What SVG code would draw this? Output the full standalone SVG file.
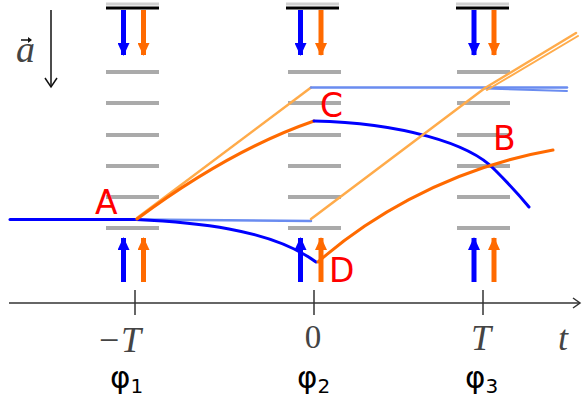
<svg xmlns="http://www.w3.org/2000/svg" width="582" height="403" viewBox="0 0 582 403">
<style>
.bar{stroke:#aaaaaa;stroke-width:4}
.top{stroke:#000;stroke-width:3}
.shade{stroke:#d0d0d0;stroke-width:3}
.blue{stroke:#0000ff;stroke-width:5}
.orng{stroke:#ff6a00;stroke-width:5}
.lbl{font-family:"DejaVu Sans",sans-serif;font-size:33px;fill:#ff0000}
.math{font-family:"Liberation Serif",serif;font-style:italic;font-size:36px;fill:#444}
.phi{font-family:"DejaVu Sans",sans-serif;font-size:31px;fill:#000}
</style>
<defs>
<marker id="hb" viewBox="0 0 13 12" refX="12" refY="6" markerWidth="13" markerHeight="12" markerUnits="userSpaceOnUse" orient="auto"><path d="M0,0 L13,6 L0,12 Z" fill="#0000ff"/></marker>
<marker id="ho" viewBox="0 0 13 12" refX="12" refY="6" markerWidth="13" markerHeight="12" markerUnits="userSpaceOnUse" orient="auto"><path d="M0,0 L13,6 L0,12 Z" fill="#ff6a00"/></marker>
</defs>
<rect width="582" height="403" fill="#fff"/>

<g id="grating1">
<line class="shade" x1="106" y1="4" x2="159" y2="4"/>
<line class="top" x1="106" y1="8" x2="159" y2="8"/>
<line class="bar" x1="106" y1="72" x2="159" y2="72"/>
<line class="bar" x1="106" y1="103" x2="159" y2="103"/>
<line class="bar" x1="106" y1="135" x2="159" y2="135"/>
<line class="bar" x1="106" y1="166" x2="159" y2="166"/>
<line class="bar" x1="106" y1="197" x2="159" y2="197"/>
<line class="bar" x1="106" y1="228" x2="159" y2="228"/>
</g>
<g id="grating2">
<line class="shade" x1="286" y1="4" x2="339" y2="4"/>
<line class="top" x1="286" y1="8" x2="339" y2="8"/>
<line class="bar" x1="288" y1="72" x2="341" y2="72"/>
<line class="bar" x1="288" y1="103" x2="341" y2="103"/>
<line class="bar" x1="288" y1="135" x2="341" y2="135"/>
<line class="bar" x1="288" y1="166" x2="341" y2="166"/>
<line class="bar" x1="288" y1="197" x2="341" y2="197"/>
<line class="bar" x1="288" y1="228" x2="341" y2="228"/>
</g>
<g id="grating3">
<line class="shade" x1="456" y1="4" x2="509" y2="4"/>
<line class="top" x1="456" y1="8" x2="509" y2="8"/>
<line class="bar" x1="457" y1="72" x2="510" y2="72"/>
<line class="bar" x1="457" y1="103" x2="510" y2="103"/>
<line class="bar" x1="457" y1="135" x2="510" y2="135"/>
<line class="bar" x1="457" y1="166" x2="510" y2="166"/>
<line class="bar" x1="457" y1="197" x2="510" y2="197"/>
<line class="bar" x1="457" y1="228" x2="510" y2="228"/>
</g>

<g id="pulses">
<line class="blue" x1="123.5" y1="10" x2="123.5" y2="55" marker-end="url(#hb)"/>
<line class="orng" x1="143.5" y1="10" x2="143.5" y2="55" marker-end="url(#ho)"/>
<line class="blue" x1="300.5" y1="10" x2="300.5" y2="55" marker-end="url(#hb)"/>
<line class="orng" x1="321" y1="10" x2="321" y2="55" marker-end="url(#ho)"/>
<line class="blue" x1="474" y1="10" x2="474" y2="55" marker-end="url(#hb)"/>
<line class="orng" x1="494" y1="10" x2="494" y2="55" marker-end="url(#ho)"/>
<line class="blue" x1="123.5" y1="282" x2="123.5" y2="238" marker-end="url(#hb)"/>
<line class="orng" x1="143.5" y1="282" x2="143.5" y2="238" marker-end="url(#ho)"/>
<line class="blue" x1="300.5" y1="282" x2="300.5" y2="238" marker-end="url(#hb)"/>
<line class="orng" x1="321" y1="282" x2="321" y2="238" marker-end="url(#ho)"/>
<line class="blue" x1="474" y1="282" x2="474" y2="238" marker-end="url(#hb)"/>
<line class="orng" x1="494" y1="282" x2="494" y2="238" marker-end="url(#ho)"/>
</g>

<g id="connectors" fill="none" stroke-linecap="round">
<line x1="10" y1="219.5" x2="136" y2="219.5" stroke="#0000ff" stroke-width="3"/>
<line x1="136" y1="219.5" x2="311" y2="221" stroke="#6a8cf0" stroke-width="2.5"/>
<path d="M136,219.5 C190,222 270,228 316,262" stroke="#0000ff" stroke-width="3"/>
<line x1="137" y1="218" x2="311" y2="87.5" stroke="#ffab4a" stroke-width="2.5"/>
<path d="M137,219 Q230,150 314,121" stroke="#ff6a00" stroke-width="3"/>
<line x1="311" y1="87.5" x2="567" y2="87.5" stroke="#6a8cf0" stroke-width="2.5"/>
<line x1="485" y1="88.5" x2="567" y2="91" stroke="#6a8cf0" stroke-width="2"/>
<path d="M314,121 C400,123 470,143 495,170 Q515,190 529,207" stroke="#0000ff" stroke-width="3"/>
<line x1="311" y1="219" x2="485" y2="88" stroke="#ffab4a" stroke-width="2.5"/>
<line x1="485" y1="88" x2="576" y2="33" stroke="#ffab4a" stroke-width="2.5"/>
<line x1="487" y1="90" x2="578" y2="36" stroke="#ffab4a" stroke-width="2"/>
<path d="M318,262 C360,225 440,170 553,150" stroke="#ff6a00" stroke-width="3"/>
</g>

<g id="labels">
<text class="lbl" x="95" y="214">A</text>
<text class="lbl" x="320" y="117">C</text>
<text class="lbl" x="493" y="150">B</text>
<text class="lbl" x="329" y="282">D</text>
</g>

<g id="accel" stroke="#111" fill="none" stroke-width="1.5">
<line x1="51" y1="10" x2="51" y2="86"/>
<path d="M45,78 L51,87 L57,78"/>
<line x1="21" y1="40" x2="31" y2="40" stroke-width="1.5"/>
<path d="M28,37 L32,40 L28,43" fill="#111" stroke="none"/>
</g>
<text x="16" y="62" style="font-family:'Liberation Serif',serif;font-style:italic;font-size:38px;fill:#444">a</text>

<g id="axis" stroke="#333" stroke-width="1.5" fill="none">
<line x1="9" y1="303" x2="580" y2="303"/>
<path d="M573,298 L580,303 L573,308"/>
<line x1="135" y1="290" x2="135" y2="315"/>
<line x1="314" y1="290" x2="314" y2="315"/>
<line x1="483" y1="290" x2="483" y2="315"/>
</g>
<text class="math" x="119" y="352" text-anchor="middle">−T</text>
<text x="313" y="348" text-anchor="middle" style="font-family:'Liberation Serif',serif;font-size:33px;fill:#444">0</text>
<text class="math" x="481" y="350" text-anchor="middle">T</text>
<text class="math" x="558" y="350">t</text>

<text class="phi" x="110" y="388">φ<tspan font-size="20" dy="5">1</tspan></text>
<text class="phi" x="297" y="388">φ<tspan font-size="20" dy="5">2</tspan></text>
<text class="phi" x="465" y="388">φ<tspan font-size="20" dy="5">3</tspan></text>
</svg>
